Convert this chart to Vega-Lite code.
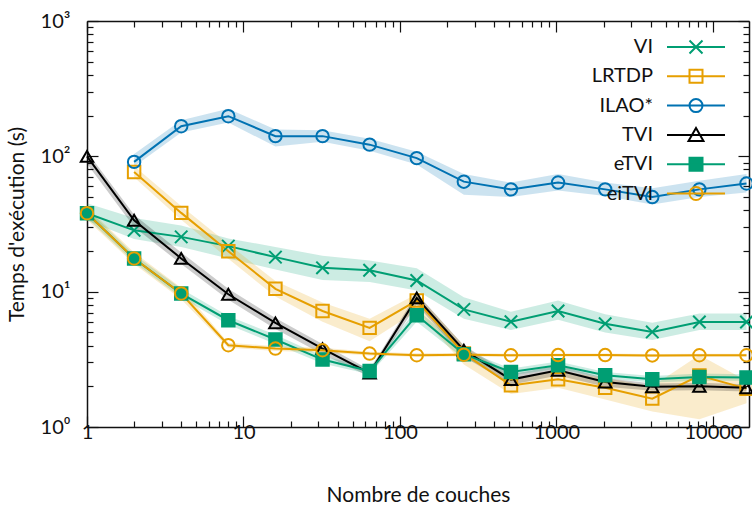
{
  "$schema": "https://vega.github.io/schema/vega-lite/v6.json",
  "width": 662,
  "height": 406,
  "autosize": {"type": "none"},
  "padding": {"left": 87, "top": 21, "right": 3, "bottom": 82},
  "background": "white",
  "config": {
    "view": {"stroke": null},
    "font": "Lato",
    "axis": {"grid": false, "labelFont": "Lato", "titleFont": "Lato", "labelColor": "#111", "titleColor": "#111", "domainColor": "#111", "tickColor": "#111", "domainWidth": 1.5, "tickWidth": 1.2}
  },
  "datasets": {
    "d": [
      {"s": "VI", "x": 1, "y": 38, "lo": 33.6, "hi": 45},
      {"s": "VI", "x": 2, "y": 28.4, "lo": 24.5, "hi": 35},
      {"s": "VI", "x": 4, "y": 25.4, "lo": 21.4, "hi": 30.8},
      {"s": "VI", "x": 8, "y": 21.7, "lo": 17.6, "hi": 24.7},
      {"s": "VI", "x": 16, "y": 18.0, "lo": 14.6, "hi": 21.4},
      {"s": "VI", "x": 32, "y": 15.0, "lo": 12.2, "hi": 18.4},
      {"s": "VI", "x": 64, "y": 14.4, "lo": 11.8, "hi": 17},
      {"s": "VI", "x": 128, "y": 12.1, "lo": 10.2, "hi": 14.9},
      {"s": "VI", "x": 256, "y": 7.4, "lo": 6.3, "hi": 9.1},
      {"s": "VI", "x": 512, "y": 6.0, "lo": 5.2, "hi": 7.1},
      {"s": "VI", "x": 1024, "y": 7.2, "lo": 6.2, "hi": 8.6},
      {"s": "VI", "x": 2048, "y": 5.8, "lo": 5.0, "hi": 6.8},
      {"s": "VI", "x": 4096, "y": 5.04, "lo": 4.4, "hi": 5.9},
      {"s": "VI", "x": 8192, "y": 5.97, "lo": 5.2, "hi": 6.9},
      {"s": "VI", "x": 16384, "y": 5.97, "lo": 5.2, "hi": 6.9},

      {"s": "LRTDP", "x": 2, "y": 76.7, "lo": 70, "hi": 85},
      {"s": "LRTDP", "x": 4, "y": 38.2, "lo": 34, "hi": 43},
      {"s": "LRTDP", "x": 8, "y": 19.9, "lo": 17.5, "hi": 22.5},
      {"s": "LRTDP", "x": 16, "y": 10.5, "lo": 9.2, "hi": 12},
      {"s": "LRTDP", "x": 32, "y": 7.2, "lo": 6.0, "hi": 8.3},
      {"s": "LRTDP", "x": 64, "y": 5.4, "lo": 4.3, "hi": 6.3},
      {"s": "LRTDP", "x": 128, "y": 8.6, "lo": 7.2, "hi": 9.6},
      {"s": "LRTDP", "x": 256, "y": 3.49, "lo": 2.9, "hi": 4.0},
      {"s": "LRTDP", "x": 512, "y": 2.03, "lo": 1.75, "hi": 2.3},
      {"s": "LRTDP", "x": 1024, "y": 2.25, "lo": 1.95, "hi": 2.6},
      {"s": "LRTDP", "x": 2048, "y": 1.95, "lo": 1.6, "hi": 2.3},
      {"s": "LRTDP", "x": 4096, "y": 1.62, "lo": 1.3, "hi": 2.0},
      {"s": "LRTDP", "x": 8192, "y": 2.4, "lo": 1.14, "hi": 3.4},
      {"s": "LRTDP", "x": 16384, "y": 1.92, "lo": 1.5, "hi": 2.2},

      {"s": "ILAO*", "x": 2, "y": 91, "lo": 84, "hi": 104},
      {"s": "ILAO*", "x": 4, "y": 167, "lo": 150, "hi": 185},
      {"s": "ILAO*", "x": 8, "y": 198, "lo": 178, "hi": 225},
      {"s": "ILAO*", "x": 16, "y": 141, "lo": 118, "hi": 158},
      {"s": "ILAO*", "x": 32, "y": 141, "lo": 128, "hi": 156},
      {"s": "ILAO*", "x": 64, "y": 122, "lo": 110, "hi": 135},
      {"s": "ILAO*", "x": 128, "y": 97, "lo": 87, "hi": 108},
      {"s": "ILAO*", "x": 256, "y": 65, "lo": 52, "hi": 74},
      {"s": "ILAO*", "x": 512, "y": 57, "lo": 50, "hi": 64},
      {"s": "ILAO*", "x": 1024, "y": 64, "lo": 56, "hi": 74},
      {"s": "ILAO*", "x": 2048, "y": 57, "lo": 51, "hi": 64},
      {"s": "ILAO*", "x": 4096, "y": 50, "lo": 44, "hi": 58},
      {"s": "ILAO*", "x": 8192, "y": 57, "lo": 50, "hi": 66},
      {"s": "ILAO*", "x": 16384, "y": 63, "lo": 54, "hi": 74},

      {"s": "TVI", "x": 1, "y": 100, "lo": 88, "hi": 108},
      {"s": "TVI", "x": 2, "y": 33.7, "lo": 30, "hi": 37},
      {"s": "TVI", "x": 4, "y": 17.6, "lo": 16, "hi": 19.5},
      {"s": "TVI", "x": 8, "y": 9.57, "lo": 8.7, "hi": 10.5},
      {"s": "TVI", "x": 16, "y": 5.87, "lo": 5.3, "hi": 6.4},
      {"s": "TVI", "x": 32, "y": 3.8, "lo": 3.45, "hi": 4.1},
      {"s": "TVI", "x": 64, "y": 2.5, "lo": 2.35, "hi": 2.65},
      {"s": "TVI", "x": 128, "y": 9.0, "lo": 8.0, "hi": 9.7},
      {"s": "TVI", "x": 256, "y": 3.7, "lo": 3.3, "hi": 4.0},
      {"s": "TVI", "x": 512, "y": 2.24, "lo": 2.05, "hi": 2.45},
      {"s": "TVI", "x": 1024, "y": 2.62, "lo": 2.4, "hi": 2.85},
      {"s": "TVI", "x": 2048, "y": 2.15, "lo": 1.98, "hi": 2.3},
      {"s": "TVI", "x": 4096, "y": 1.98, "lo": 1.85, "hi": 2.1},
      {"s": "TVI", "x": 8192, "y": 2.0, "lo": 1.87, "hi": 2.12},
      {"s": "TVI", "x": 16384, "y": 1.95, "lo": 1.83, "hi": 2.07},

      {"s": "eTVI", "x": 1, "y": 38, "lo": 35, "hi": 41},
      {"s": "eTVI", "x": 2, "y": 17.6, "lo": 16.5, "hi": 18.8},
      {"s": "eTVI", "x": 4, "y": 9.68, "lo": 9.0, "hi": 10.5},
      {"s": "eTVI", "x": 8, "y": 6.15, "lo": 5.7, "hi": 6.6},
      {"s": "eTVI", "x": 16, "y": 4.43, "lo": 4.1, "hi": 4.8},
      {"s": "eTVI", "x": 32, "y": 3.15, "lo": 2.95, "hi": 3.35},
      {"s": "eTVI", "x": 64, "y": 2.59, "lo": 2.45, "hi": 2.75},
      {"s": "eTVI", "x": 128, "y": 6.7, "lo": 6.0, "hi": 7.4},
      {"s": "eTVI", "x": 256, "y": 3.45, "lo": 3.2, "hi": 3.7},
      {"s": "eTVI", "x": 512, "y": 2.55, "lo": 2.4, "hi": 2.7},
      {"s": "eTVI", "x": 1024, "y": 2.86, "lo": 2.7, "hi": 3.05},
      {"s": "eTVI", "x": 2048, "y": 2.41, "lo": 2.28, "hi": 2.55},
      {"s": "eTVI", "x": 4096, "y": 2.25, "lo": 2.13, "hi": 2.38},
      {"s": "eTVI", "x": 8192, "y": 2.34, "lo": 2.2, "hi": 2.48},
      {"s": "eTVI", "x": 16384, "y": 2.32, "lo": 2.2, "hi": 2.45},

      {"s": "eiTVI", "x": 1, "y": 38, "lo": 34, "hi": 42},
      {"s": "eiTVI", "x": 2, "y": 17.6, "lo": 16, "hi": 19.5},
      {"s": "eiTVI", "x": 4, "y": 9.7, "lo": 8.8, "hi": 10.7},
      {"s": "eiTVI", "x": 8, "y": 4.02, "lo": 3.85, "hi": 4.2},
      {"s": "eiTVI", "x": 16, "y": 3.8, "lo": 3.65, "hi": 3.95},
      {"s": "eiTVI", "x": 32, "y": 3.69, "lo": 3.55, "hi": 3.85},
      {"s": "eiTVI", "x": 64, "y": 3.49, "lo": 3.37, "hi": 3.6},
      {"s": "eiTVI", "x": 128, "y": 3.39, "lo": 3.3, "hi": 3.5},
      {"s": "eiTVI", "x": 256, "y": 3.42, "lo": 3.32, "hi": 3.52},
      {"s": "eiTVI", "x": 512, "y": 3.39, "lo": 3.3, "hi": 3.48},
      {"s": "eiTVI", "x": 1024, "y": 3.4, "lo": 3.31, "hi": 3.49},
      {"s": "eiTVI", "x": 2048, "y": 3.4, "lo": 3.31, "hi": 3.49},
      {"s": "eiTVI", "x": 4096, "y": 3.38, "lo": 3.29, "hi": 3.47},
      {"s": "eiTVI", "x": 8192, "y": 3.39, "lo": 3.3, "hi": 3.48},
      {"s": "eiTVI", "x": 16384, "y": 3.39, "lo": 3.3, "hi": 3.48}
    ]
  },
  "data": {"name": "d"},
  "resolve": {"axis": {"x": "independent", "y": "independent"}, "legend": {"color": "independent", "shape": "independent", "fill": "independent"}},
  "layer": [
    {
      "mark": {"type": "area", "opacity": 0.2},
      "encoding": {
        "x": {"field": "x", "type": "quantitative",
          "scale": {"type": "log", "domain": [1, 17000], "nice": false},
          "axis": {"orient": "bottom", "title": "Nombre de couches", "titleFontSize": 21, "titleFontWeight": "normal",
            "values": [1,2,3,4,5,6,7,8,9,10,20,30,40,50,60,70,80,90,100,200,300,400,500,600,700,800,900,1000,2000,3000,4000,5000,6000,7000,8000,9000,10000],
            "format": "d",
            "labelExpr": "(datum.value == 1 || datum.value == 10 || datum.value == 100 || datum.value == 1000 || datum.value == 10000) ? datum.label : ''",
            "labelFontSize": 20, "labelPadding": 6, "labelBaseline": "top", "labelOverlap": false, "labelFlush": false,
            "tickSize": {"condition": {"test": "datum.value == 1 || datum.value == 10 || datum.value == 100 || datum.value == 1000 || datum.value == 10000", "value": -11}, "value": -6},
            "titleY": 68, "titleBaseline": "middle"}},
        "y": {"field": "lo", "type": "quantitative",
          "scale": {"type": "log", "domain": [1, 1000], "nice": false},
          "axis": {"orient": "left", "title": "Temps d'exécution (s)", "titleFontSize": 21, "titleFontWeight": "normal",
            "values": [1,2,3,4,5,6,7,8,9,10,20,30,40,50,60,70,80,90,100,200,300,400,500,600,700,800,900,1000],
            "labelExpr": "datum.value == 1 ? '10⁰' : datum.value == 10 ? '10¹' : datum.value == 100 ? '10²' : datum.value == 1000 ? '10³' : ''",
            "labelFontSize": 20, "labelPadding": 28, "labelOverlap": false, "labelFlush": false,
            "tickSize": {"condition": {"test": "datum.value == 1 || datum.value == 10 || datum.value == 100 || datum.value == 1000", "value": -11}, "value": -6},
            "titleX": -70, "titleBaseline": "middle"}},
        "y2": {"field": "hi"},
        "color": {"field": "s", "type": "nominal", "legend": null,
          "scale": {"domain": ["VI", "LRTDP", "ILAO*", "TVI", "eTVI", "eiTVI"], "range": ["#009E73", "#E69F00", "#0072B2", "#000000", "#009E73", "#E69F00"]}}
      }
    },
    {
      "mark": {"type": "line", "strokeWidth": 2},
      "encoding": {
        "x": {"field": "x", "type": "quantitative",
          "axis": {"orient": "top", "title": null, "labels": false,
            "values": [1,2,3,4,5,6,7,8,9,10,20,30,40,50,60,70,80,90,100,200,300,400,500,600,700,800,900,1000,2000,3000,4000,5000,6000,7000,8000,9000,10000],
            "tickSize": {"condition": {"test": "datum.value == 1 || datum.value == 10 || datum.value == 100 || datum.value == 1000 || datum.value == 10000", "value": -11}, "value": -6}}},
        "y": {"field": "y", "type": "quantitative",
          "axis": {"orient": "right", "title": null, "labels": false,
            "values": [1,2,3,4,5,6,7,8,9,10,20,30,40,50,60,70,80,90,100,200,300,400,500,600,700,800,900,1000],
            "tickSize": {"condition": {"test": "datum.value == 1 || datum.value == 10 || datum.value == 100 || datum.value == 1000", "value": -11}, "value": -6}}},
        "color": {"field": "s", "type": "nominal",
          "legend": {
            "orient": "none", "legendX": 546, "legendY": 16, "title": null, "direction": "vertical",
            "labelAlign": "right", "labelFont": "Lato", "labelFontSize": 20, "labelColor": "#111",
            "labelOffset": -53, "symbolOffset": 53, "symbolSize": 169, "symbolStrokeWidth": 2,
            "rowPadding": 7.3, "padding": 0,
            "encode": {"symbols": {"update": {
              "shape": {"signal": "datum.value === 'VI' ? 'M-4.46,0H4.46M-1,-1L1,1M-1,1L1,-1' : (datum.value === 'LRTDP' || datum.value === 'eTVI') ? 'M-4.46,0H4.46M-1,-1H1V1H-1Z' : datum.value === 'TVI' ? 'M-4.46,0H4.46M0,-1.05L1.15,0.95H-1.15Z' : 'M-4.46,0H4.46M1,0A1,1,0,1,1,-1,0A1,1,0,1,1,1,0Z'"},
              "fill": {"signal": "datum.value === 'eTVI' ? '#009E73' : 'transparent'"},
              "strokeWidth": {"value": 2}
            }}}
          }}
      }
    },
    {
      "mark": {"type": "point", "filled": false, "strokeWidth": 2, "size": 155, "opacity": 1},
      "encoding": {
        "x": {"field": "x", "type": "quantitative", "axis": null},
        "y": {"field": "y", "type": "quantitative", "axis": null},
        "color": {"field": "s", "type": "nominal", "legend": null},
        "shape": {"field": "s", "type": "nominal", "legend": null,
          "scale": {"domain": ["VI", "LRTDP", "ILAO*", "TVI", "eTVI", "eiTVI"], "range": ["M-1,-1L1,1M-1,1L1,-1", "square", "circle", "triangle-up", "square", "circle"]}},
        "fill": {"condition": {"test": "datum.s === 'eTVI'", "value": "#009E73"}, "value": "transparent"}
      }
    }
  ]
}
